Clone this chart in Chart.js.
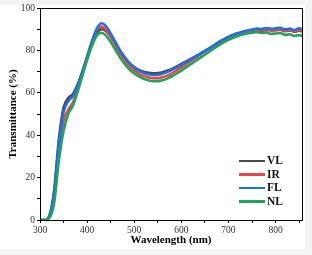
<!DOCTYPE html>
<html>
<head>
<meta charset="utf-8">
<script src="https://cdn.jsdelivr.net/npm/chart.js@4/dist/chart.umd.min.js"></script>
<style>
  html, body { margin: 0; padding: 0; background: #f4f4f4; }
  #sheet { position: absolute; left: 0; top: 5px; width: 305px; height: 244px; background: #fff; }
  #wrap { position: absolute; left: 0; top: 0; width: 312px; height: 255px; }
  #legend { position: absolute; left: 239px; top: 154px; font: bold 11.5px "Liberation Serif", serif; color: #111; }
  #legend div { height: 13.5px; line-height: 13.5px; display: flex; align-items: center; }
  #legend span.ln { display: inline-block; width: 26px; height: 2.5px; margin-right: 2px; }
</style>
</head>
<body>
<div id="sheet"></div>
<div id="wrap"><canvas id="chart" width="312" height="255"></canvas></div>
<div id="legend"></div>
<script>
const wavelength = [300,310,320,330,340,350,360,370,380,390,400,410,420,430,440,450,460,470,480,490,
  500,510,520,530,540,550,560,570,580,590,600,610,620,630,640,650,660,670,680,690,
  700,710,720,730,740,750,760,770,780,790,800,810,820,830,840,850,860]

const VL = [0,0,2,14,38,53,57.5,59.5,64,70,76.5,83,88,90,89.2,86.5,83,79.5,76.5,74,
  72.2,70.8,69.9,69.4,69.2,69.3,69.7,70.4,71.3,72.4,73.6,74.8,76,77.2,78.4,79.7,81,82.4,83.8,85,
  86.1,87,87.8,88.4,88.9,89.2,89.6,89.3,89.8,89.4,89.5,89.8,89.1,89.4,88.8,89.3,88.7]
const IR = [0,0,1.5,11,33,47,52,55.5,62,69.5,77,84,89.5,91.2,89.8,86.5,82.5,78.5,75.3,72.6,
  70.6,69.1,68,67.3,66.9,66.9,67.3,68.1,69.2,70.6,72,73.5,75,76.5,78,79.5,81,82.4,83.8,85.1,
  86.2,87.2,88,88.6,89.1,89.4,89.8,89.5,90,89.6,89.7,90,89.3,89.6,89,89.5,88.9]
const FL = [0,0,2,13,36,51,56,58.5,63.5,70,77,84,90,92.8,91.5,88,84,80,76.8,74,
  72,70.5,69.4,68.7,68.4,68.5,69,69.8,70.8,72,73.2,74.5,75.8,77.1,78.4,79.8,81.1,82.5,84,85.3,
  86.4,87.4,88.2,88.8,89.4,89.8,90.3,90.1,90.6,90.2,90.4,90.7,89.9,90.3,89.6,90.4,89.8]
const NL = [0,0,1,8,28,42,50,54,60.5,68,75.5,82,86.8,88.3,87,84,80.3,76.6,73.5,71,
  69.1,67.7,66.6,65.9,65.5,65.5,65.9,66.7,67.8,69.1,70.5,72,73.5,75,76.5,78,79.5,81,82.5,83.8,
  85,86,86.8,87.5,88,88.3,88.6,88.2,88.5,87.8,88,88.2,87.3,87.6,86.8,87.2,86.5]

const seriesNames = ['VL', 'IR', 'FL', 'NL']
const seriesData = [VL, IR, FL, NL]
const colors = ['#4a4a4a', '#ef4444', '#1f6fe5', '#22a35a']
const drawOrder = [3, 2, 1, 0]

const serif = '"Liberation Serif", "Times New Roman", serif'

// box round the plot area
const frame = {
  id: 'frame',
  afterDraw(c) {
    const { ctx, chartArea: a } = c
    ctx.save()
    ctx.strokeStyle = '#000'
    ctx.lineWidth = 1
    ctx.strokeRect(a.left + 0.5, a.top + 0.5, a.right - a.left, a.bottom - a.top)
    ctx.restore()
  }
}

new Chart(document.getElementById('chart'), {
  type: 'line',
  data: {
    datasets: seriesNames.map((n, i) => ({
      label: n,
      data: wavelength.map((w, j) => ({ x: w, y: seriesData[i][j] })),
      borderColor: colors[i],
      borderWidth: 2.6,
      pointRadius: 0,
      cubicInterpolationMode: 'monotone',
      order: drawOrder[i]
    }))
  },
  options: {
    responsive: false,
    animation: false,
    layout: { padding: { top: 8, right: 10, left: 0, bottom: 0 } },
    plugins: { legend: { display: false }, tooltip: { enabled: false } },
    scales: {
      x: {
        type: 'linear',
        min: 300,
        max: 856,
        afterFit: s => { s.height = 35 },
        border: { color: '#000', width: 1 },
        grid: { drawOnChartArea: false, tickLength: 3, color: '#000' },
        ticks: {
          stepSize: 50,
          includeBounds: false,
          maxRotation: 0,
          autoSkip: false,
          padding: 2,
          color: '#333',
          font: { family: serif, size: 9.5 },
          callback: v => v % 100 === 0 ? v : ''
        },
        title: {
          display: true,
          text: 'Wavelength (nm)',
          color: '#000',
          font: { family: serif, size: 11, weight: 'bold' },
          padding: { top: 0, bottom: 8 }
        }
      },
      y: {
        min: 0,
        max: 100,
        afterFit: s => { s.width = 40 },
        border: { color: '#000', width: 1 },
        grid: { drawOnChartArea: false, tickLength: 3, color: '#000' },
        ticks: {
          stepSize: 10,
          autoSkip: false,
          padding: 2,
          color: '#333',
          font: { family: serif, size: 9.5 },
          callback: v => v % 20 === 0 ? v : ''
        },
        title: {
          display: true,
          text: 'Transmittance (%)',
          color: '#000',
          font: { family: serif, size: 11, weight: 'bold' },
          padding: { top: 7, bottom: 0 }
        }
      }
    }
  },
  plugins: [frame]
})

document.getElementById('legend').innerHTML = seriesNames.map((n, i) =>
  `<div><span class="ln" style="background:${colors[i]}"></span>${n}</div>`).join('')
</script>
</body>
</html>
